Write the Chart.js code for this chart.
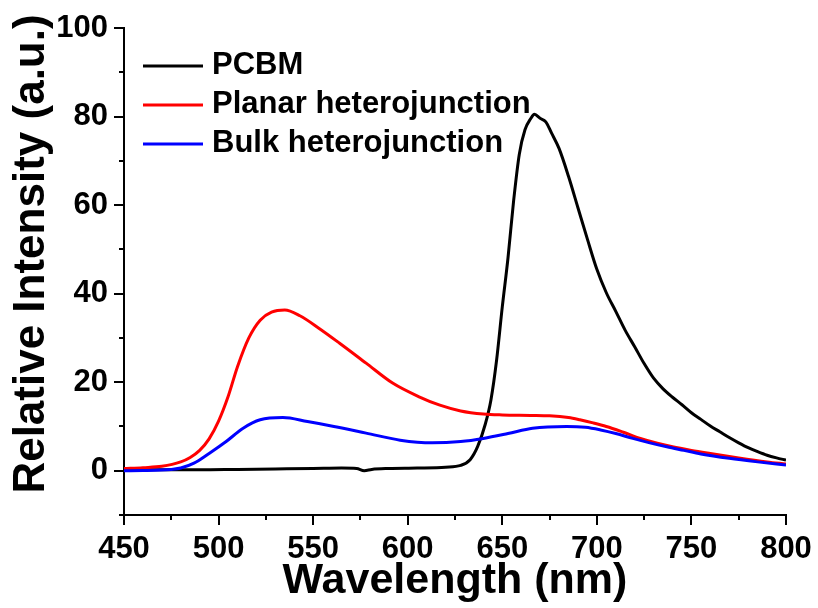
<!DOCTYPE html>
<html>
<head>
<meta charset="utf-8">
<script src="https://cdn.jsdelivr.net/npm/chart.js@4.4.1/dist/chart.umd.min.js"></script>
<style>
  html, body { margin: 0; padding: 0; background: #fff; }
</style>
</head>
<body>
<canvas id="chart" width="818" height="608"></canvas>
<script>
// Data
const pcbmWavelength = [450, 470, 490, 510, 530, 550, 565, 573, 577, 581, 590, 605, 620, 628, 633, 637, 641, 644, 647, 650, 653, 656, 659, 662, 665, 667, 670, 673, 676, 680, 685, 690, 695, 700, 705, 710, 715, 720, 725, 730, 735, 740, 745, 750, 755, 760, 765, 770, 775, 780, 785, 790, 795, 800];
const pcbmIntensity = [0.2, 0.2, 0.2, 0.3, 0.4, 0.5, 0.6, 0.5, 0.0, 0.3, 0.5, 0.6, 0.8, 1.2, 2.5, 5.5, 10.5, 16, 25, 37, 48, 61, 71.5, 77, 79.5, 80.5, 79.6, 78.8, 76.3, 72.8, 66.5, 59.4, 52.3, 45.5, 40.2, 36, 31.7, 28, 24.2, 20.9, 18.5, 16.6, 14.9, 13.1, 11.6, 10.1, 8.8, 7.5, 6.3, 5.2, 4.3, 3.5, 2.9, 2.4];

const planarWavelength = [450, 460, 470, 480, 485, 490, 495, 500, 505, 510, 516, 522, 528, 535, 543, 553, 564, 578, 592, 606, 617, 628, 640, 650, 665, 675, 685, 691, 698, 705, 714, 723, 732, 740, 750, 760, 775, 790, 800];
const planarIntensity = [0.5, 0.7, 1.0, 2.0, 3.0, 4.6, 7.2, 11.2, 16.7, 23.5, 30.0, 34.0, 35.8, 36.3, 35, 32.2, 28.8, 24.3, 19.8, 16.7, 14.8, 13.5, 12.8, 12.6, 12.5, 12.4, 12.0, 11.5, 10.8, 10, 8.7, 7.3, 6.2, 5.4, 4.6, 3.9, 2.9, 2.0, 1.5];

const bulkWavelength = [450, 460, 470, 475, 480, 487, 495, 504, 513, 522, 534, 547, 561, 578, 596, 613, 628, 640, 653, 666, 684, 694, 702, 710, 719, 728, 737, 746, 755, 770, 785, 800];
const bulkIntensity = [0, 0.05, 0.15, 0.3, 0.6, 1.7, 3.9, 6.6, 9.6, 11.5, 12, 11.1, 10, 8.5, 6.9, 6.3, 6.6, 7.3, 8.4, 9.6, 10, 9.8, 9.2, 8.4, 7.3, 6.3, 5.4, 4.6, 3.8, 2.8, 2, 1.3];

const seriesLabels = ['PCBM', 'Planar heterojunction', 'Bulk heterojunction'];
const xTickLabels = [450, 500, 550, 600, 650, 700, 750, 800];
const yTickLabels = [0, 20, 40, 60, 80, 100];
const xTitle = 'Wavelength (nm)';
const yTitle = 'Relative Intensity (a.u.)';

const FONT = '"Liberation Sans", Arial, Helvetica, sans-serif';

function toPoints(xs, ys) {
    return xs.map((x, i) => ({ x: x, y: ys[i] }));
}

// Outward major/minor tick marks on the two axes
const axisTicks = {
    id: 'axisTicks',
    afterDraw(chart) {
        const ctx = chart.ctx;
        const area = chart.chartArea;
        const xs = chart.scales.x;
        const ys = chart.scales.y;
        ctx.save();
        ctx.strokeStyle = '#000';
        ctx.lineWidth = 2;
        ctx.beginPath();
        for (let v = xs.min; v <= xs.max; v += 25) {
            const px = Math.round(xs.getPixelForValue(v));
            const len = v % 50 === 0 ? 10 : 5;
            ctx.moveTo(px, area.bottom);
            ctx.lineTo(px, area.bottom + len);
        }
        for (let v = ys.min; v <= ys.max; v += 10) {
            const py = Math.round(ys.getPixelForValue(v));
            const len = v % 20 === 0 ? 10 : 5;
            ctx.moveTo(area.left, py);
            ctx.lineTo(area.left - len, py);
        }
        ctx.stroke();
        ctx.restore();
    }
};

// Legend inside the plot, top left
const insideLegend = {
    id: 'insideLegend',
    afterDraw(chart) {
        const ctx = chart.ctx;
        const area = chart.chartArea;
        ctx.save();
        ctx.font = 'bold 31px ' + FONT;
        ctx.textBaseline = 'middle';
        chart.data.datasets.forEach((ds, i) => {
            const y = area.top + 38 + i * 39;
            ctx.strokeStyle = ds.borderColor;
            ctx.lineWidth = 3;
            ctx.beginPath();
            ctx.moveTo(area.left + 19, y);
            ctx.lineTo(area.left + 79, y);
            ctx.stroke();
            ctx.fillStyle = '#000';
            ctx.fillText(ds.label, area.left + 88, y - 1);
        });
        ctx.restore();
    }
};

// Rotated y title
const yAxisTitle = {
    id: 'yAxisTitle',
    afterDraw(chart) {
        const ctx = chart.ctx;
        ctx.save();
        ctx.font = 'bold 44px ' + FONT;
        ctx.fillStyle = '#000';
        ctx.textAlign = 'center';
        ctx.textBaseline = 'middle';
        ctx.translate(32, 254);
        ctx.rotate(-Math.PI / 2);
        ctx.fillText(yTitle, 0, 0);
        ctx.restore();
    }
};

const colors = ['#000000', '#ff0000', '#0000ff'];

const chart = new Chart(document.getElementById('chart').getContext('2d'), {
    type: 'line',
    data: {
        datasets: [
            { label: seriesLabels[0], data: toPoints(pcbmWavelength, pcbmIntensity), borderColor: colors[0], order: 2 },
            { label: seriesLabels[1], data: toPoints(planarWavelength, planarIntensity), borderColor: colors[1], order: 1 },
            { label: seriesLabels[2], data: toPoints(bulkWavelength, bulkIntensity), borderColor: colors[2], order: 0 }
        ].map(ds => Object.assign(ds, {
            borderWidth: 3,
            pointRadius: 0,
            fill: false,
            cubicInterpolationMode: 'monotone'
        }))
    },
    options: {
        responsive: false,
        animation: false,
        layout: {
            padding: { top: 28, right: 32, left: 0, bottom: 0 }
        },
        plugins: {
            legend: { display: false },
            tooltip: { enabled: false }
        },
        scales: {
            x: {
                type: 'linear',
                min: 450,
                max: 800,
                afterFit: scale => {
                    scale.height = 93;
                    scale.paddingLeft = 0;
                    scale.paddingRight = 0;
                },
                afterBuildTicks: scale => { scale.ticks = xTickLabels.map(v => ({ value: v })); },
                grid: { display: true, drawOnChartArea: false, drawTicks: false },
                border: { display: true, color: '#000', width: 2 },
                ticks: {
                    color: '#000',
                    padding: 16,
                    maxRotation: 0,
                    font: { family: FONT, size: 31, weight: 'bold' }
                },
                title: {
                    display: true,
                    text: xTitle,
                    color: '#000',
                    padding: { top: 0, bottom: 1 },
                    font: { family: FONT, size: 43, weight: 'bold' }
                }
            },
            y: {
                type: 'linear',
                min: -10,
                max: 100,
                afterFit: scale => {
                    scale.width = 124;
                    scale.paddingTop = 0;
                    scale.paddingBottom = 0;
                },
                afterBuildTicks: scale => { scale.ticks = yTickLabels.map(v => ({ value: v })); },
                grid: { display: true, drawOnChartArea: false, drawTicks: false },
                border: { display: true, color: '#000', width: 2 },
                ticks: {
                    color: '#000',
                    padding: 16,
                    font: { family: FONT, size: 31, weight: 'bold' }
                }
            }
        }
    },
    plugins: [axisTicks, insideLegend, yAxisTitle]
});
</script>
</body>
</html>
